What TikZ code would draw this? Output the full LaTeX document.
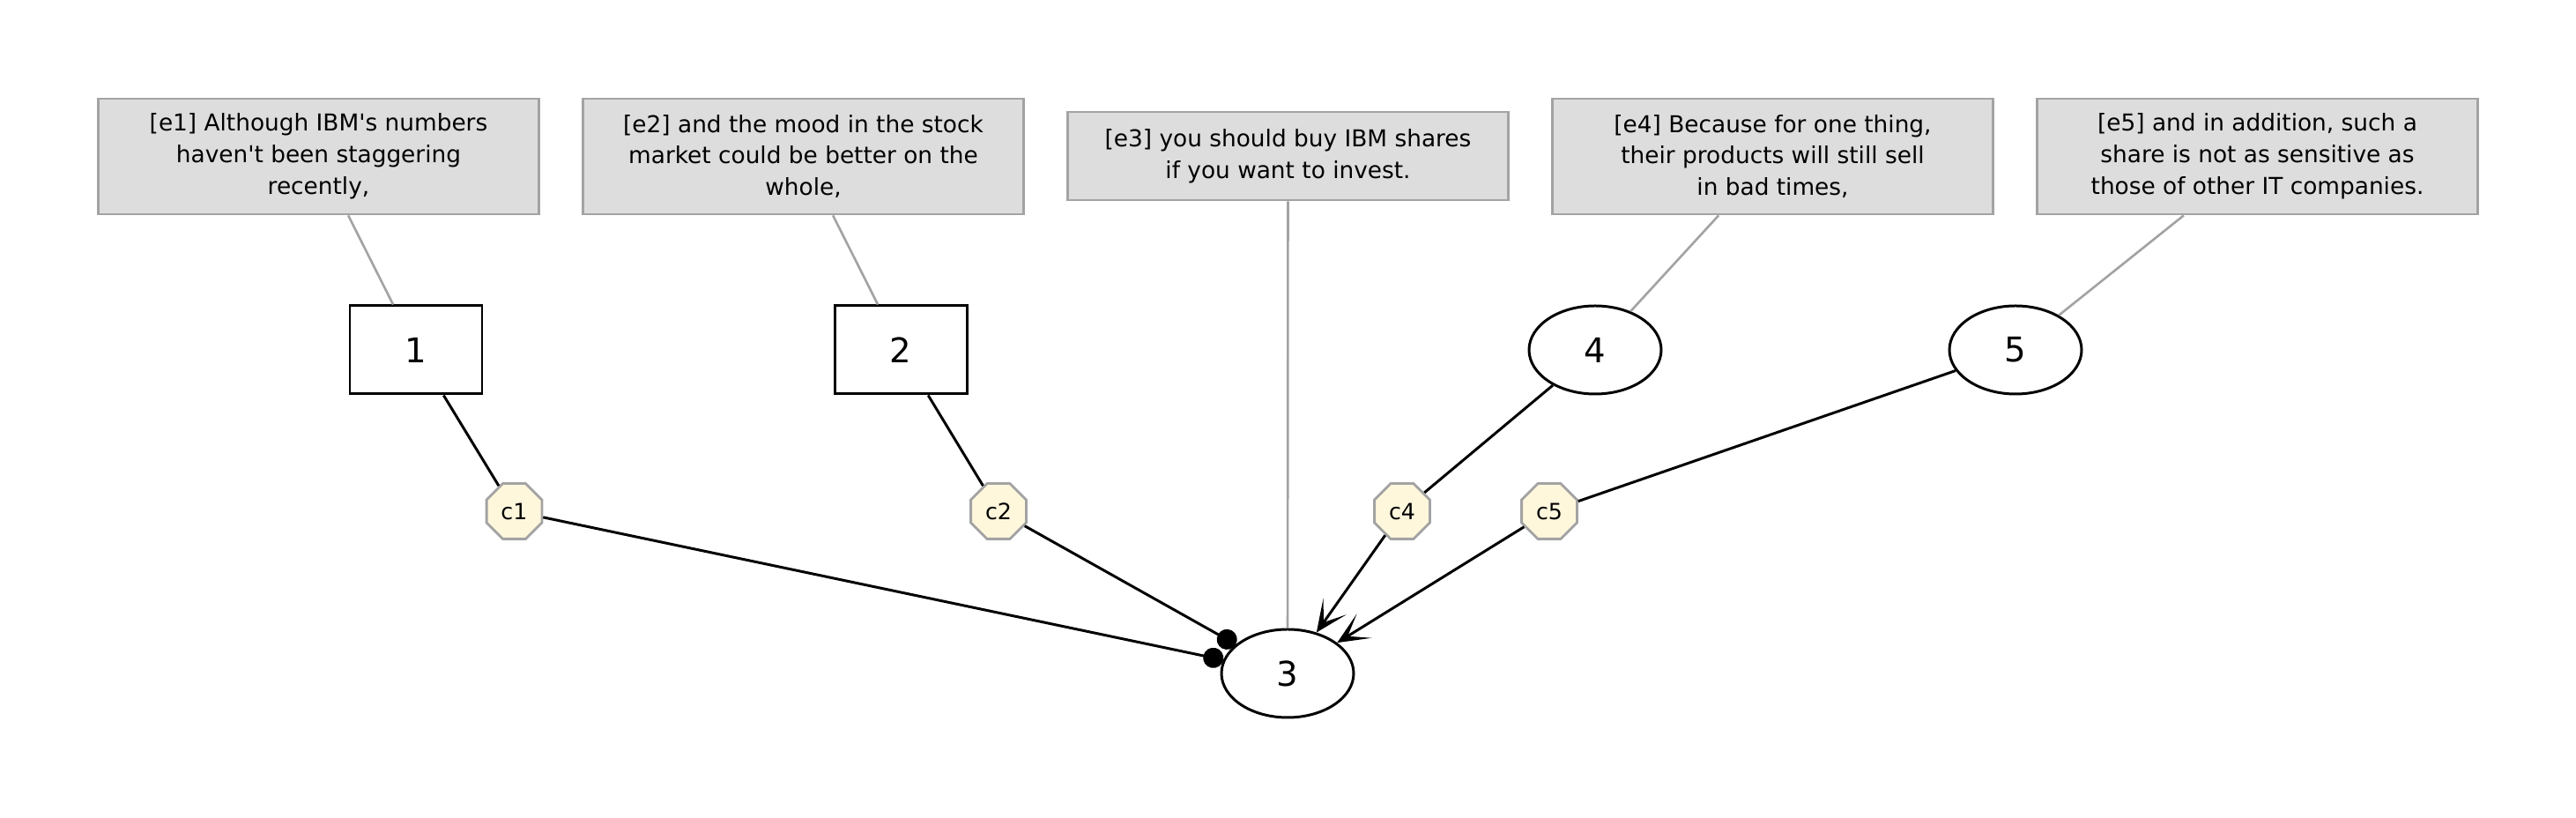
\documentclass[tikz,border=0pt]{standalone}
\usepackage{fontspec}
\setmainfont{DejaVu Sans}[Ligatures=TeXOff]
\usetikzlibrary{arrows.meta, shapes.geometric}

\definecolor{segfill}{HTML}{DDDDDD}
\definecolor{segline}{HTML}{A3A3A3}
\definecolor{jointfill}{HTML}{FFF7DC}

\begin{document}
\begin{tikzpicture}[
      seg/.style={rectangle, draw=segline, line width=0.8pt, fill=segfill, minimum width=5cm, minimum height=1.31cm, inner sep=0pt, align=center, font=\fontsize{7.5}{10.2}\selectfont},
      boxed/.style={rectangle, draw, line width=0.85pt, minimum width=1.5cm, minimum height=1cm, inner sep=0pt, font=\fontsize{11}{13}\selectfont},
      oval/.style={ellipse, draw, line width=0.85pt, minimum width=1.5cm, minimum height=1cm, inner sep=0pt, font=\fontsize{11}{13}\selectfont},
      joint/.style={regular polygon, regular polygon sides=8, draw=segline, line width=0.8pt, fill=jointfill, minimum size=0.68cm, inner sep=0pt, font=\fontsize{7.2}{9}\selectfont},
      link/.style={draw=segline, line width=0.75pt},
      edge/.style={draw, line width=0.85pt}]

      \useasboundingbox (0,0) rectangle (29.23,-9.28);

      \node[seg] (e1) at (3.615,-1.775) {[e1] Although IBM's numbers\\haven't been staggering\\recently,};
      \node[seg] (e2) at (9.115,-1.775) {[e2] and the mood in the stock\\market could be better on the\\whole,};
      \node[seg, minimum height=1cm] (e3) at (14.615,-1.77) {[e3] you should buy IBM shares\\if you want to invest.};
      \node[seg] (e4) at (20.115,-1.775) {[e4] Because for one thing,\\their products will still sell\\in bad times,};
      \node[seg] (e5) at (25.615,-1.775) {[e5] and in addition, such a\\share is not as sensitive as\\those of other IT companies.};

      \node[boxed] (n1) at (4.72,-3.97) {1};
      \node[boxed] (n2) at (10.22,-3.97) {2};
      \node[oval] (n3) at (14.61,-7.64) {3};
      \node[oval] (n4) at (18.10,-3.97) {4};
      \node[oval] (n5) at (22.87,-3.97) {5};

      \node[joint] (c1) at (5.835,-5.80) {c1};
      \node[joint] (c2) at (11.33,-5.80) {c2};
      \node[joint] (c4) at (15.91,-5.80) {c4};
      \node[joint] (c5) at (17.58,-5.80) {c5};

      % Segment links
      \foreach \k in {1,...,5} {
        \draw[link] (e\k) -- (n\k);
      }

      % Relations
      \draw[edge] (n1) -- (c1);
      \draw[edge, -{Circle[length=0.23cm]}] (c1) -- (n3);
      \draw[edge] (n2) -- (c2);
      \draw[edge, -{Circle[length=0.23cm]}] (c2) -- (n3);
      \draw[edge] (n4) -- (c4);
      \draw[edge, -{Stealth[length=0.36cm, width=0.32cm, inset=0.22cm]}] (c4) -- (n3);
      \draw[edge] (n5) -- (c5);
      \draw[edge, -{Stealth[length=0.36cm, width=0.32cm, inset=0.22cm]}] (c5) -- (n3);
    \end{tikzpicture}
\end{document}
